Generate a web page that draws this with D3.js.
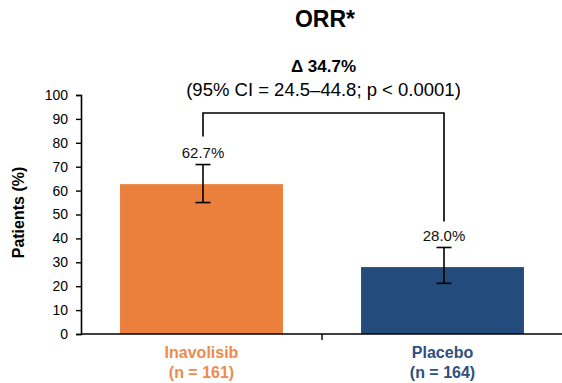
<!DOCTYPE html>
<html>
<head>
<meta charset="utf-8">
<script src="https://cdn.jsdelivr.net/npm/d3@7"></script>
<style>
  html, body { margin: 0; padding: 0; background: #fff; }
  svg { display: block; font-family: "Liberation Sans", Arial, sans-serif; }
</style>
</head>
<body>
<svg id="chart" width="562" height="383"></svg>
<script>
// ORR by treatment arm
const categories = ["Inavolisib", "Placebo"];
const sampleSizes = ["(n = 161)", "(n = 164)"];
const orrValues = [62.7, 28.0];
const ciLow = [55.0, 21.2];
const ciHigh = [70.9, 36.2];
const barColors = ["#EB7F3C", "#234B7C"];
const labelColors = ["#EE8B4B", "#2E4F80"];
const yTicks = [0, 10, 20, 30, 40, 50, 60, 70, 80, 90, 100];
const bracketLevel = 92.5;
const deltaLabel = "\u0394 34.7%";
const ciLabel = "(95% CI = 24.5\u201344.8; p < 0.0001)";

const svg = d3.select("#chart");

const x = d3.scaleBand()
  .domain(categories)
  .range([81, 563])
  .paddingInner(0.324)
  .paddingOuter(0.162);

const y = d3.scaleLinear().domain([0, 100]).range([334, 95]);

// Title
svg.append("text")
  .attr("x", 325).attr("y", 27)
  .attr("text-anchor", "middle")
  .attr("font-size", 23).attr("font-weight", "bold")
  .text("ORR*");

// Bars
svg.selectAll("rect.bar")
  .data(categories)
  .join("rect")
  .attr("class", "bar")
  .attr("x", d => x(d))
  .attr("width", x.bandwidth())
  .attr("y", (d, i) => y(orrValues[i]))
  .attr("height", (d, i) => y(0) - y(orrValues[i]))
  .attr("fill", (d, i) => barColors[i]);

// Y axis
const yAxis = d3.axisLeft(y).tickValues(yTicks).tickSize(5).tickPadding(8);
const gy = svg.append("g").attr("transform", "translate(81,0)").call(yAxis);
gy.select(".domain").attr("stroke", "#000").attr("stroke-width", 1.6);
gy.selectAll(".tick line").attr("stroke", "#000").attr("stroke-width", 1.4);
gy.selectAll(".tick text").attr("font-size", 14).attr("fill", "#000")
  .attr("font-family", "Liberation Sans, Arial, sans-serif");

// X axis line with category boundary ticks
const gx = svg.append("g").attr("transform", `translate(0,${y(0)})`);
gx.append("line")
  .attr("x1", 81).attr("x2", 563)
  .attr("stroke", "#000").attr("stroke-width", 1.6);
const bounds = [x(categories[1]) - x.step() * x.paddingInner() / 2];
gx.selectAll("line.tick")
  .data(bounds)
  .join("line")
  .attr("class", "tick")
  .attr("x1", d => d).attr("x2", d => d)
  .attr("y1", 0).attr("y2", 6)
  .attr("stroke", "#000").attr("stroke-width", 1.4);

// Category labels
categories.forEach((c, i) => {
  const cx = x(c) + x.bandwidth() / 2;
  const t = svg.append("text")
    .attr("text-anchor", "middle")
    .attr("font-size", 16).attr("font-weight", "bold")
    .attr("fill", labelColors[i]);
  t.append("tspan").attr("x", cx).attr("y", 358).text(c);
  t.append("tspan").attr("x", cx).attr("y", 378).text(sampleSizes[i]);
});

// Y axis title
svg.append("text")
  .attr("transform", `translate(24,${(y(0) + y(100)) / 2 - 2}) rotate(-90)`)
  .attr("text-anchor", "middle")
  .attr("font-size", 16).attr("font-weight", "bold")
  .text("Patients (%)");

// Error bars
const cxOf = i => x(categories[i]) + x.bandwidth() / 2 + 1.5;
const whisker = 7.5;
categories.forEach((c, i) => {
  const cx = cxOf(i);
  const g = svg.append("g").attr("stroke", "#000").attr("stroke-width", 1.6);
  g.append("line").attr("x1", cx).attr("x2", cx)
    .attr("y1", y(ciLow[i])).attr("y2", y(ciHigh[i]));
  g.append("line").attr("x1", cx - whisker).attr("x2", cx + whisker)
    .attr("y1", y(ciLow[i])).attr("y2", y(ciLow[i]));
  g.append("line").attr("x1", cx - whisker).attr("x2", cx + whisker)
    .attr("y1", y(ciHigh[i])).attr("y2", y(ciHigh[i]));
});

// Value labels
const labelY = i => y(ciHigh[i]) - 12;
categories.forEach((c, i) => {
  svg.append("text")
    .attr("x", cxOf(i)).attr("y", labelY(i))
    .attr("dy", "0.35em")
    .attr("text-anchor", "middle")
    .attr("font-size", 15).attr("fill", "#111")
    .text(orrValues[i].toFixed(1) + "%");
});

// Comparison bracket
const by = y(bracketLevel);
const bracket = d3.path();
bracket.moveTo(cxOf(0), labelY(0) - 16);
bracket.lineTo(cxOf(0), by);
bracket.lineTo(cxOf(1), by);
bracket.lineTo(cxOf(1), labelY(1) - 14);
svg.append("path")
  .attr("d", bracket.toString())
  .attr("fill", "none").attr("stroke", "#000").attr("stroke-width", 1.6);

// Difference annotation
const midX = (cxOf(0) + cxOf(1)) / 2;
svg.append("text")
  .attr("x", midX).attr("y", 72)
  .attr("text-anchor", "middle")
  .attr("font-size", 17).attr("font-weight", "bold")
  .text(deltaLabel);
svg.append("text")
  .attr("x", midX).attr("y", 96)
  .attr("text-anchor", "middle")
  .attr("font-size", 18.5)
  .text(ciLabel);
</script>
</body>
</html>
